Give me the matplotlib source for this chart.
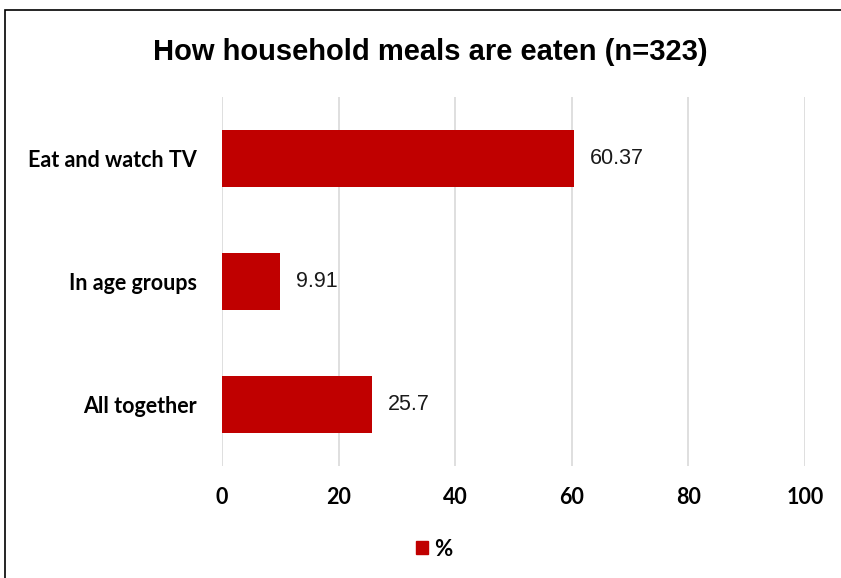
import matplotlib.pyplot as plt
from matplotlib.patches import Rectangle, Patch

categories = ['All together', 'In age groups', 'Eat and watch TV']
values = [25.7, 9.91, 60.37]
ticks = [0, 20, 40, 60, 80, 100]
bar_color = '#C00000'

W, H = 841, 578
fig = plt.figure(figsize=(W / 100, H / 100), dpi=100)
ax = fig.add_axes([222 / W, (H - 466) / H, (805 - 222) / W, (466 - 97) / H])

# outer chart border
fig.patches.append(Rectangle((5 / W, -0.1), 1.2, 1 - 10 / H + 0.1, transform=fig.transFigure,
                             fill=False, edgecolor='black', linewidth=1.2))

y = range(len(categories))
ax.barh(y, values, height=0.465, color=bar_color, zorder=3)
for yi, v in zip(y, values):
    ax.annotate(f'{v:g}', (v, yi), xytext=(11.5, 0), textcoords='offset points',
                va='center', ha='left', fontsize=15.5, family='Liberation Sans', color='#1a1a1a')

ax.set_xlim(0, 100)
ax.set_ylim(-0.5, 2.5)
ax.set_xticks(ticks)
ax.set_xticklabels([str(t) for t in ticks], fontsize=15.5, fontweight='bold', family='Lato')
ax.set_yticks(list(y))
ax.set_yticklabels(categories, fontsize=15.5, fontweight='bold', family='Lato')
ax.tick_params(length=0)
ax.tick_params(axis='x', pad=15)
ax.tick_params(axis='y', pad=18)
ax.grid(axis='x', color='#D9D9D9', linewidth=1.2, zorder=0)
for s in ax.spines.values():
    s.set_visible(False)

fig.text(430 / W, 1 - 52 / H, 'How household meals are eaten (n=323)', ha='center', va='center',
         fontsize=21, fontweight='bold', family='Liberation Sans')

fig.legend(handles=[Patch(color=bar_color, label='%')], loc='center',
           bbox_to_anchor=(434 / W, 1 - 549 / H), frameon=False,
           prop={'family': 'Lato', 'weight': 'bold', 'size': 16},
           handlelength=0.55, handleheight=0.55, handletextpad=0.25)

fig.savefig('out.png', dpi=100)
